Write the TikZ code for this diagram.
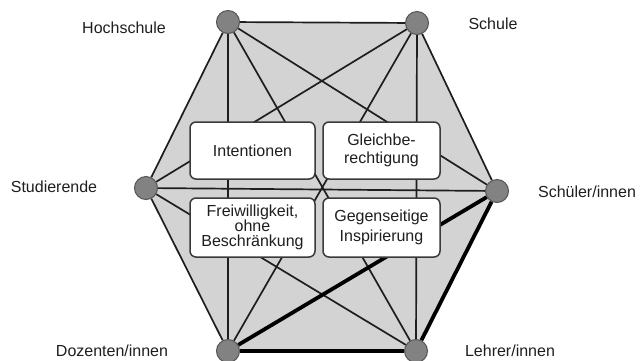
\documentclass[tikz,border=0pt]{standalone}
\usepackage{fontspec}
\setmainfont{Liberation Sans}
\pgfdeclarelayer{bgl}
\pgfdeclarelayer{linel}
\pgfsetlayers{bgl,linel,main}
\definecolor{hexgray}{HTML}{D3D3D3}
\definecolor{dotgray}{HTML}{828282}
\definecolor{dotedge}{HTML}{555555}
\definecolor{boxedge}{HTML}{3A3A3A}
\definecolor{ink}{HTML}{1E1E1E}
\begin{document}
\begin{tikzpicture}[x=1pt,y=-1pt,
  dot/.style={circle,fill=dotgray,draw=dotedge,line width=1pt,minimum size=23pt,inner sep=0pt},
  lbl/.style={font=\fontsize{16}{18}\selectfont,text=ink,inner sep=0pt},
  box/.style={rectangle,rounded corners=6pt,fill=white,draw=boxedge,line width=1.5pt,
    align=center,inner sep=0pt,text=ink,font=\fontsize{16}{18.5}\selectfont},
  link/.style={draw=ink,line width=1.7pt},
  strong/.style={draw=black,line width=3.8pt}]
\useasboundingbox (0,0) rectangle (640,360);
% persons / institutions
\node[dot] (H) at (228,22) {};
\node[dot] (S) at (417,23) {};
\node[dot] (St) at (146,188) {};
\node[dot] (Sch) at (497,191) {};
\node[dot] (D) at (228,351) {};
\node[dot] (L) at (416,351) {};
% labels
\node[lbl] (lH) at (124,28) {Hochschule};
\node[lbl] (lS) at (493,24) {Schule};
\node[lbl] (lSt) at (54,187) {Studierende};
\node[lbl] (lSch) at (587,192) {Schüler/innen};
\node[lbl] (lD) at (112,351) {Dozenten/innen};
\node[lbl] (lL) at (510,351) {Lehrer/innen};
% boxes
\node[box,minimum width=125pt,minimum height=57pt] (b1) at (252.5,150.5) {Intentionen};
\node[box,minimum width=117pt,minimum height=57pt] (b2) at (381.5,150.5) {Gleichbe-\\rechtigung};
\node[box,minimum width=125pt,minimum height=59pt,font=\fontsize{16}{15}\selectfont] (b3) at (252.5,227.5) {Freiwilligkeit,\\ohne\\Beschränkung};
\node[box,minimum width=117pt,minimum height=59pt,font=\fontsize{16}{19.5}\selectfont] (b4) at (381.5,227.5) {Gegenseitige\\Inspirierung};
\begin{pgfonlayer}{bgl}
  \fill[hexgray] (H.center) -- (S.center) -- (Sch.center) -- (L.center) -- (D.center) -- (St.center) -- cycle;
\end{pgfonlayer}
\begin{pgfonlayer}{linel}
  \path[link] (H) -- (S);
  \path[link] (H) -- (St);
  \path[link] (H) -- (D);
  \path[link] (H) -- (L);
  \path[link] (H) -- (Sch);
  \path[link] (S) -- (Sch);
  \path[link] (S) -- (L);
  \path[link] (S) -- (St);
  \path[link] (S) -- (D);
  \path[link] (St) -- (Sch);
  \path[link] (St) -- (D);
  \path[link] (St) -- (L);
  \path[strong] (Sch) -- (D);
  \path[strong] (Sch) -- (L);
  \path[strong] (D) -- (L);
\end{pgfonlayer}
\end{tikzpicture}
\end{document}
